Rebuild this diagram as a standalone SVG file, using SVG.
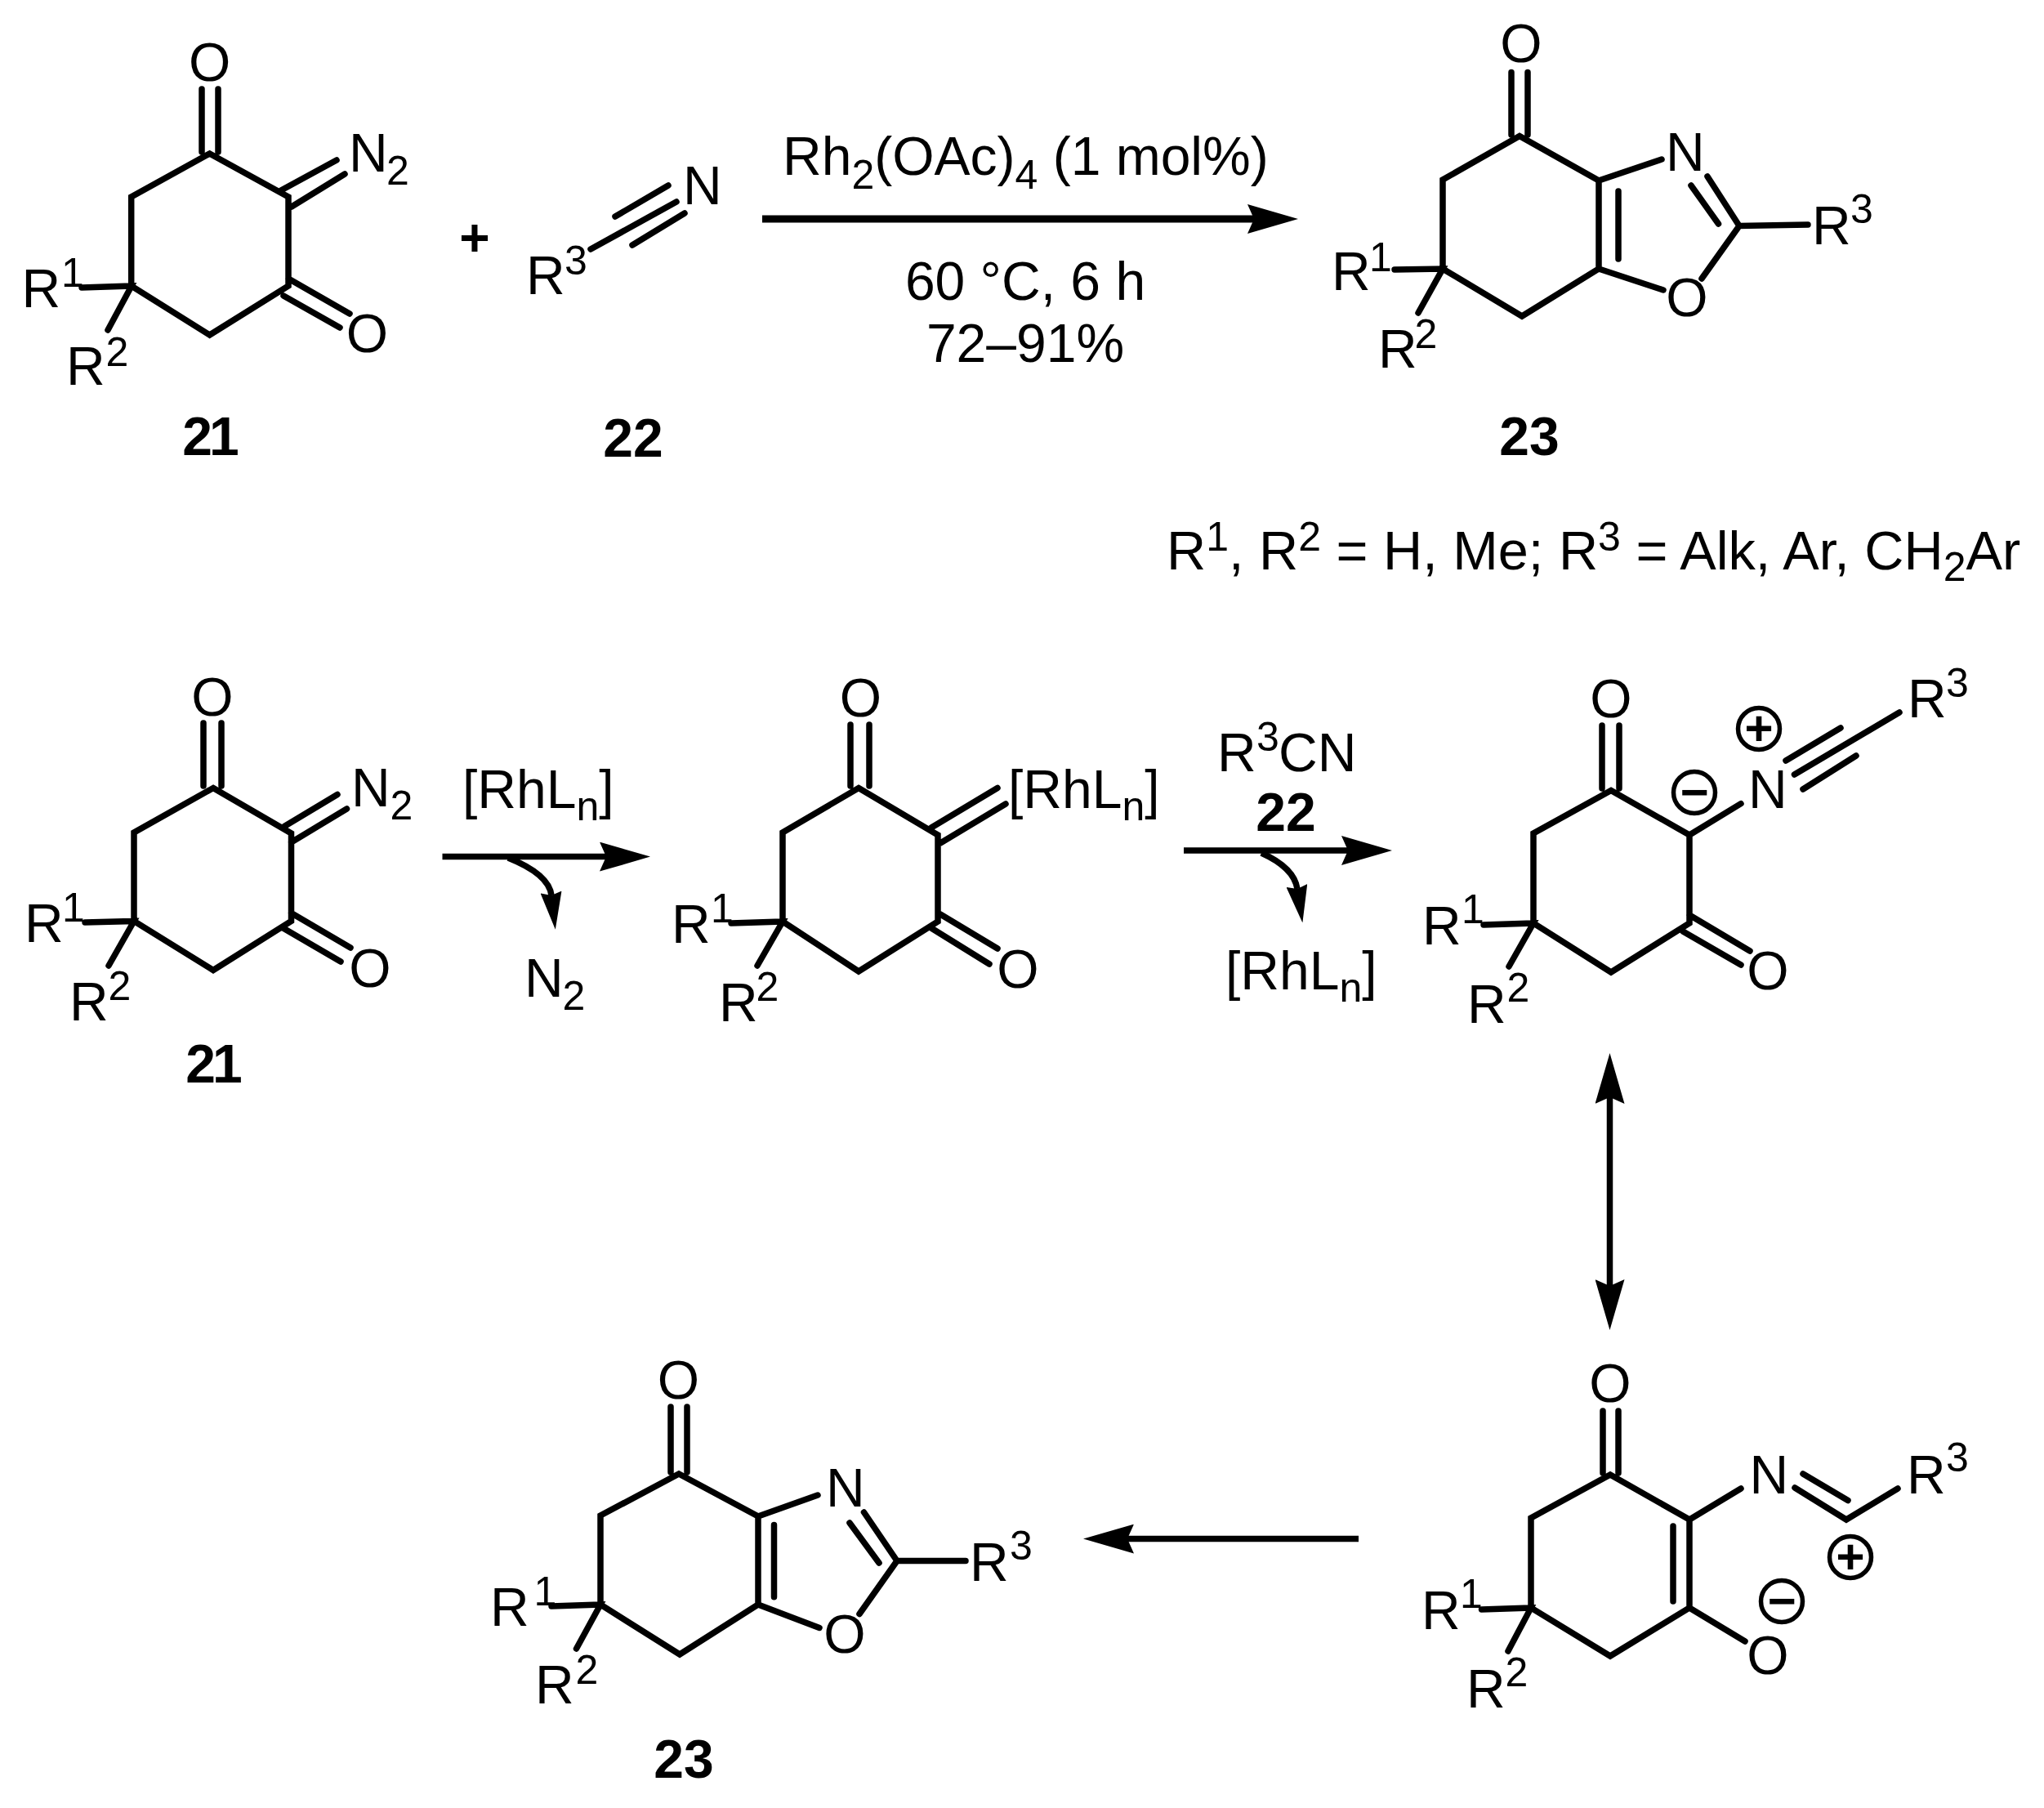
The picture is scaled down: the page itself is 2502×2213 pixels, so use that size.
<svg xmlns="http://www.w3.org/2000/svg" width="2502" height="2213" viewBox="0 0 2502 2213">
<style>
text{font-family:"Liberation Sans",Arial,sans-serif;font-size:66px;fill:#000}
.s{font-size:50px}
.b{font-weight:bold}
.m{text-anchor:middle}
.c{font-size:60px;font-weight:bold;text-anchor:middle}
.w{font-size:66.7px}
.n{letter-spacing:-4px}
path.bd{fill:none;stroke:#000;stroke-width:7.5;stroke-linecap:round;stroke-linejoin:miter}
circle{fill:none;stroke:#000;stroke-width:5.5}
.ar{fill:none;stroke:#000;stroke-width:7.5}
</style>
<defs>
<marker id="h" markerUnits="userSpaceOnUse" viewBox="0 0 62 36" markerWidth="62" markerHeight="36" refX="8" refY="18" orient="auto-start-reverse"><path d="M0 0L62 18L0 36L8 18z"/></marker>
<marker id="k" markerUnits="userSpaceOnUse" viewBox="0 0 46 26" markerWidth="46" markerHeight="26" refX="4" refY="13" orient="auto"><path d="M0 0L46 13L0 26L4 13z"/></marker>
</defs>
<rect width="2502" height="2213" fill="#fff"/>
<g id="connectors">
<path class="ar" style="stroke-width:9" d="M933 268H1535" marker-end="url(#h)"/>
<path class="ar" d="M541.5 1048.6H742" marker-end="url(#h)"/>
<path class="ar" d="M622 1050Q672 1070 675 1096" marker-end="url(#k)"/>
<path class="ar" d="M1449 1041H1650" marker-end="url(#h)"/>
<path class="ar" d="M1544 1044Q1584 1062 1588 1088" marker-end="url(#k)"/>
<path class="ar" d="M1970.5 1343V1574" marker-start="url(#h)" marker-end="url(#h)"/>
<path class="ar" d="M1663 1883.6H1380" marker-end="url(#h)"/>
</g>
<g id="node-21-top">
<path class="bd" d="M256.6 188L353 241V350L256.6 410L160.7 350V241ZM247 109V186M267 109V186M344 233L412 196M357 253L422 213M353 341L428 384M347 362L416 401M100 352L161 350L132 404"/>
<text class="m" x="256.6" y="99">O</text>
<text x="427" y="210">N<tspan class="s" x="473" y="226">2</tspan></text>
<text class="m" x="449.5" y="431">O</text>
<text x="26.5" y="376">R<tspan class="s" x="75" y="351">1</tspan></text>
<text x="81" y="471">R<tspan class="s" x="129.5" y="448">2</tspan></text>
<text class="b m n" x="256" y="557">21</text>
</g>
<g id="plus"><text class="m b" style="font-size:64px" x="581" y="313">+</text></g>
<g id="node-22-top">
<path class="bd" d="M723 305L828 247M753 265L818 227M774 300L838 261"/>
<text x="644" y="360">R<tspan class="s" x="691" y="336">3</tspan></text>
<text x="836" y="250">N</text>
<text class="b m" x="775" y="559">22</text>
</g>
<g id="conditions">
<text x="958" y="214">Rh<tspan class="s" dy="17">2</tspan><tspan dy="-17">(OAc)</tspan><tspan class="s" dy="17">4</tspan><tspan dy="-17"> (1 mol%)</tspan></text>
<text class="m" x="1255" y="367">60 °C, 6 h</text>
<text class="m" x="1255" y="442.6">72–91%</text>
</g>
<g id="node-23-top">
<path class="bd" d="M1860 166.5L1957 221V329L1863 387L1766 329V220ZM1850 88.5V165M1870 88.5V165M1957 221L2034 195M2090 216L2129 276.5L2213 275M2070 227L2103.5 274M2129 276.5L2083 341M1957 329L2036 355M1981 234V317M1707 330L1766 329L1736 383"/>
<text class="m" x="1862" y="76">O</text>
<text x="2039" y="209">N</text>
<text x="2218" y="299">R<tspan class="s" x="2265" y="273">3</tspan></text>
<text class="m" x="2065" y="387">O</text>
<text x="1630" y="355">R<tspan class="s" x="1676" y="332">1</tspan></text>
<text x="1687" y="450">R<tspan class="s" x="1731.5" y="426">2</tspan></text>
<text class="b m" x="1872" y="557">23</text>
</g>
<g id="substituents">
<text class="w" x="1428" y="697">R<tspan class="s" dy="-23">1</tspan><tspan dy="23">, R</tspan><tspan class="s" dy="-23">2</tspan><tspan dy="23"> = H, Me; R</tspan><tspan class="s" dy="-23">3</tspan><tspan dy="23"> = Alk, Ar, CH</tspan><tspan class="s" dy="14">2</tspan><tspan dy="-14">Ar</tspan></text>
</g>
<g id="node-21-mech">
<path class="bd" d="M261 964.5L356.5 1020V1127.5L261 1187.5L164 1127.5V1019ZM249 885V962M271 885V962M348 1011.5L413 972.5M356.5 1031L424.5 990M356.5 1117.5L429 1160M346.6 1136L417 1177M104 1129L164 1127.5L133 1182"/>
<text class="m" x="260" y="876">O</text>
<text x="430" y="987">N<tspan class="s" x="477.5" y="1003">2</tspan></text>
<text class="m" x="453" y="1208">O</text>
<text x="30" y="1153">R<tspan class="s" x="76" y="1128">1</tspan></text>
<text x="85" y="1249">R<tspan class="s" x="132.5" y="1224">2</tspan></text>
<text class="b m n" x="260" y="1325">21</text>
</g>
<g id="label-rhln-1"><text x="566" y="989">[RhL<tspan class="s" dy="15">n</tspan><tspan dy="-15">]</tspan></text></g>
<g id="label-n2"><text x="642" y="1220">N<tspan class="s" x="688.5" y="1236">2</tspan></text></g>
<g id="node-carbene">
<path class="bd" d="M1051 964.5L1148 1022V1128L1051 1189L958 1128V1019ZM1041 887V962M1064 887V962M1140 1013L1221 964.5M1151 1032L1231 984M1151 1119L1221 1161M1140 1136L1211 1180M895 1130L958 1128L927 1182"/>
<text class="m" x="1053.5" y="877">O</text>
<text x="1234" y="989">[RhL<tspan class="s" dy="15">n</tspan><tspan dy="-15">]</tspan></text>
<text class="m" x="1246" y="1209">O</text>
<text x="822" y="1154">R<tspan class="s" x="870" y="1129">1</tspan></text>
<text x="880" y="1250">R<tspan class="s" x="925.5" y="1225">2</tspan></text>
</g>
<g id="label-r3cn">
<text x="1490" y="944">R<tspan class="s" x="1538" y="918.5">3</tspan><tspan x="1565" y="944">CN</tspan></text>
<text class="b m" x="1574" y="1017">22</text>
</g>
<g id="label-rhln-2"><text x="1500" y="1210.5">[RhL<tspan class="s" dy="15">n</tspan><tspan dy="-15">]</tspan></text></g>
<g id="node-nitrilium">
<path class="bd" d="M1972 967.5L2068 1022V1130L1972 1190L1877 1130V1020ZM1961 888V965M1982 888V965M2068 1022L2131 983.6M2196.5 948L2325 872M2186 931L2253 891M2207 966L2272 925M2068 1120L2142 1164M2060 1140L2131 1181M1816 1132L1877 1130L1847 1183"/>
<text class="m" x="1972" y="878">O</text>
<text x="2140" y="988.6">N</text>
<circle cx="2074" cy="970" r="25.5"/><text class="c" x="2074" y="990">−</text>
<circle cx="2153" cy="892" r="25.5"/><text class="c" x="2153" y="912">+</text>
<text x="2335" y="877.6">R<tspan class="s" x="2382" y="853">3</tspan></text>
<text class="m" x="2164" y="1211">O</text>
<text x="1741" y="1156">R<tspan class="s" x="1789" y="1130">1</tspan></text>
<text x="1796" y="1251.5">R<tspan class="s" x="1844.5" y="1226">2</tspan></text>
</g>
<g id="node-ketenimine">
<path class="bd" d="M1971 1805L2068 1860V1968L1971 2027L1874 1968V1858ZM1962 1727V1803M1981 1727V1803M2048 1868V1960M2068 1860L2131 1822M2197 1821L2260 1860L2323 1822M2207 1804L2262 1836.5M2068 1968L2136 2009M1813.5 1970L1874 1968L1846 2021"/>
<text class="m" x="1971" y="1716">O</text>
<text x="2141.5" y="1827.5">N</text>
<text x="2334" y="1827.5">R<tspan class="s" x="2382" y="1801">3</tspan></text>
<circle cx="2265" cy="1906" r="25.5"/><text class="c" x="2265" y="1926">+</text>
<circle cx="2181" cy="1960" r="25.5"/><text class="c" x="2181" y="1980">−</text>
<text class="m" x="2164" y="2049">O</text>
<text x="1740" y="1994">R<tspan class="s" x="1787" y="1968">1</tspan></text>
<text x="1795" y="2089.5">R<tspan class="s" x="1842.5" y="2064">2</tspan></text>
</g>
<g id="node-23-mech">
<path class="bd" d="M831 1804L928 1856V1964L832 2025L735 1964V1855ZM821 1722V1802M841 1722V1802M928 1856L1001 1830M1057.5 1851L1098 1910.5L1182 1910.5M1040 1864L1076 1913M1098 1910.5L1052 1975.5M928 1964L1003 1992.5M947.5 1866.6V1954.7M675 1966L735 1964L705.5 2018"/>
<text class="m" x="830.5" y="1712">O</text>
<text x="1011" y="1844">N</text>
<text x="1187" y="1934.7">R<tspan class="s" x="1236" y="1909">3</tspan></text>
<text class="m" x="1034" y="2023">O</text>
<text x="600" y="1989.5">R<tspan class="s" x="653.5" y="1965">1</tspan></text>
<text x="655" y="2085">R<tspan class="s" x="704.5" y="2060.6">2</tspan></text>
<text class="b m" x="837" y="2176">23</text>
</g>
</svg>
